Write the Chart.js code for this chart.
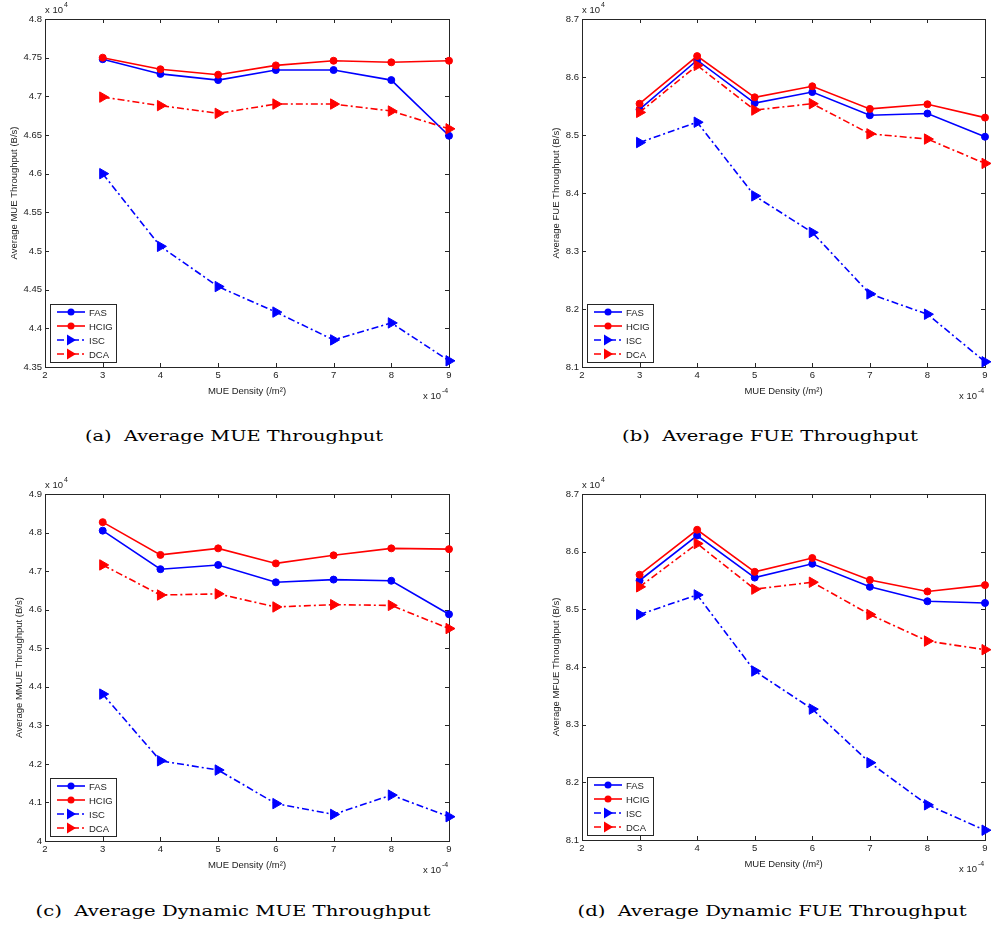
<!DOCTYPE html>
<html>
<head>
<meta charset="utf-8">
<script src="https://cdn.jsdelivr.net/npm/chart.js@4.4.1/dist/chart.umd.min.js"></script>
<style>
body { margin: 0; background: #fff; width: 992px; height: 931px; position: relative; overflow: hidden; }
canvas { position: absolute; }
.cap { position: absolute; font-family: "DejaVu Serif", serif; font-size: 15px; color: #000; white-space: pre; transform: translate(-50%, -50%); }
</style>
</head>
<body>
<canvas id="ca"></canvas>
<canvas id="cb"></canvas>
<canvas id="cc"></canvas>
<canvas id="cd"></canvas>
<div class="cap" data-w="298" style="left:234px;top:436px">(a)  Average MUE Throughput</div>
<div class="cap" data-w="296" style="left:770px;top:436px">(b)  Average FUE Throughput</div>
<div class="cap" data-w="395" style="left:233px;top:911px">(c)  Average Dynamic MUE Throughput</div>
<div class="cap" data-w="389" style="left:772px;top:911px">(d)  Average Dynamic FUE Throughput</div>
<script>
// x values in units of 1e-4 /m^2, y values in units of 1e4 B/s
const density = [3, 4, 5, 6, 7, 8, 9];
const seriesNames = ['FAS', 'HCIG', 'ISC', 'DCA'];

const xTicks = [2, 3, 4, 5, 6, 7, 8, 9];
const yTicksMue = [4.35, 4.4, 4.45, 4.5, 4.55, 4.6, 4.65, 4.7, 4.75, 4.8];
const yTicksFue = [8.1, 8.2, 8.3, 8.4, 8.5, 8.6, 8.7];
const yTicksDynMue = [4, 4.1, 4.2, 4.3, 4.4, 4.5, 4.6, 4.7, 4.8, 4.9];
const yTicksDynFue = [8.1, 8.2, 8.3, 8.4, 8.5, 8.6, 8.7];

// (a) average MUE throughput
const mueFAS  = [4.748, 4.729, 4.721, 4.734, 4.734, 4.721, 4.649];
const mueHCIG = [4.750, 4.735, 4.728, 4.740, 4.746, 4.744, 4.746];
const mueISC  = [4.600, 4.506, 4.454, 4.421, 4.385, 4.407, 4.358];
const mueDCA  = [4.699, 4.688, 4.678, 4.690, 4.690, 4.681, 4.658];

// (b) average FUE throughput
const fueFAS  = [8.544, 8.629, 8.555, 8.574, 8.534, 8.537, 8.497];
const fueHCIG = [8.554, 8.636, 8.565, 8.584, 8.545, 8.553, 8.530];
const fueISC  = [8.487, 8.522, 8.395, 8.332, 8.226, 8.191, 8.109];
const fueDCA  = [8.539, 8.620, 8.543, 8.554, 8.502, 8.493, 8.451];

// (c) average dynamic MUE throughput
const dynMueFAS  = [4.805, 4.705, 4.716, 4.671, 4.678, 4.675, 4.588];
const dynMueHCIG = [4.827, 4.742, 4.759, 4.720, 4.741, 4.759, 4.757];
const dynMueISC  = [4.381, 4.208, 4.184, 4.097, 4.069, 4.119, 4.063];
const dynMueDCA  = [4.716, 4.638, 4.641, 4.607, 4.613, 4.611, 4.551];

// (d) average dynamic FUE throughput
const dynFueFAS  = [8.550, 8.628, 8.555, 8.579, 8.539, 8.514, 8.511];
const dynFueHCIG = [8.560, 8.638, 8.565, 8.589, 8.551, 8.531, 8.542];
const dynFueISC  = [8.491, 8.525, 8.393, 8.327, 8.234, 8.161, 8.117];
const dynFueDCA  = [8.539, 8.614, 8.535, 8.547, 8.491, 8.445, 8.430];

const BLUE = '#0000ff';
const RED = '#ff0000';
const DASHDOT = [7, 3, 2, 3];
const FONT = 'Liberation Sans, Arial, sans-serif';

function styleFor(i) {
    const solid = i < 2;
    const color = (i % 2 === 0) ? BLUE : RED;
    return {
        borderColor: color,
        backgroundColor: color,
        borderWidth: 1.6,
        borderDash: solid ? [] : DASHDOT,
        pointStyle: solid ? 'circle' : 'triangle',
        pointRotation: solid ? 0 : 90,
        pointRadius: solid ? 3.5 : 6,
        pointBorderWidth: 1
    };
}

function makeSets(lists) {
    return lists.map((vals, i) => Object.assign({
        label: seriesNames[i],
        data: density.map((x, j) => ({ x: x, y: vals[j] })),
        clip: false,
        order: 3 - i,
        tension: 0
    }, styleFor(i)));
}

// box, inward ticks, legend and the x10 multipliers (MATLAB look)
const matlabLook = {
    id: 'matlabLook',
    beforeDatasetsDraw(chart) {
        const ctx = chart.ctx;
        const a = chart.chartArea;
        const xs = chart.scales.x, ys = chart.scales.y;
        ctx.save();
        ctx.strokeStyle = '#262626';
        ctx.lineWidth = 1;
        ctx.strokeRect(Math.round(a.left) + 0.5, Math.round(a.top) + 0.5, Math.round(a.right - a.left), Math.round(a.bottom - a.top));
        ctx.beginPath();
        xs.ticks.forEach(t => {
            const px = Math.round(xs.getPixelForValue(t.value)) + 0.5;
            ctx.moveTo(px, a.bottom); ctx.lineTo(px, a.bottom - 4);
            ctx.moveTo(px, a.top); ctx.lineTo(px, a.top + 4);
        });
        ys.ticks.forEach(t => {
            const py = Math.round(ys.getPixelForValue(t.value)) + 0.5;
            ctx.moveTo(a.left, py); ctx.lineTo(a.left + 4, py);
            ctx.moveTo(a.right, py); ctx.lineTo(a.right - 4, py);
        });
        ctx.stroke();
        ctx.restore();
    },
    afterDraw(chart) {
        const ctx = chart.ctx;
        const a = chart.chartArea;
        ctx.save();
        // legend box
        const lx = Math.round(a.left) + 5, lw = 66, lh = 58;
        const ly = Math.round(a.bottom) - 5 - lh;
        ctx.fillStyle = '#fff';
        ctx.fillRect(lx, ly, lw, lh);
        ctx.strokeStyle = '#262626';
        ctx.lineWidth = 1;
        ctx.strokeRect(lx + 0.5, ly + 0.5, lw, lh);
        chart.data.datasets.forEach((ds, i) => {
            const y = ly + 8 + i * 14;
            ctx.strokeStyle = ds.borderColor;
            ctx.lineWidth = ds.borderWidth;
            ctx.setLineDash(ds.borderDash);
            ctx.beginPath();
            ctx.moveTo(lx + 7, y); ctx.lineTo(lx + 35, y);
            ctx.stroke();
            ctx.setLineDash([]);
            ctx.fillStyle = ds.backgroundColor;
            ctx.beginPath();
            if (ds.pointStyle === 'circle') {
                ctx.arc(lx + 21, y, ds.pointRadius, 0, Math.PI * 2);
            } else {
                ctx.moveTo(lx + 26, y); ctx.lineTo(lx + 17, y - 5.5); ctx.lineTo(lx + 17, y + 5.5);
                ctx.closePath();
            }
            ctx.fill();
            ctx.fillStyle = '#222';
            ctx.font = '9.5px ' + FONT;
            ctx.textBaseline = 'middle';
            ctx.textAlign = 'left';
            ctx.fillText(ds.label, lx + 39, y + 1);
        });
        // multipliers
        ctx.fillStyle = '#222';
        ctx.textBaseline = 'alphabetic';
        ctx.font = '9.5px ' + FONT;
        ctx.fillText('x 10', a.left, a.top - 6);
        let w = ctx.measureText('x 10').width;
        ctx.font = '7px ' + FONT;
        ctx.fillText('4', a.left + w + 1, a.top - 12);
        ctx.font = '9.5px ' + FONT;
        w = ctx.measureText('x 10').width;
        ctx.fillText('x 10', a.right - w - 8, a.bottom + 32);
        ctx.font = '7px ' + FONT;
        ctx.fillText('-4', a.right - 7, a.bottom + 26);
        ctx.restore();
    }
};

const PAD_BOTTOM = 6;

function makeChart(id, box, area, yTicks, yTitle, lists) {
    const cv = document.getElementById(id);
    cv.width = box.w; cv.height = box.h + PAD_BOTTOM;
    cv.style.left = box.left + 'px'; cv.style.top = box.top + 'px';
    const yW = area[0] - box.left;
    const xH = box.top + box.h - area[3];
    new Chart(cv, {
        type: 'line',
        data: { datasets: makeSets(lists) },
        options: {
            responsive: false,
            animation: false,
            events: [],
            layout: { padding: { left: 0, top: area[1] - box.top, right: box.left + box.w - area[2], bottom: PAD_BOTTOM } },
            plugins: { legend: { display: false }, tooltip: { enabled: false } },
            scales: {
                x: {
                    type: 'linear',
                    min: xTicks[0], max: xTicks[xTicks.length - 1],
                    grid: { display: false, drawTicks: false },
                    border: { display: false },
                    afterBuildTicks: s => { s.ticks = xTicks.map(v => ({ value: v })); },
                    afterFit: s => { s.height = xH; },
                    ticks: { padding: 3, color: '#222', font: { family: FONT, size: 9.5 }, maxRotation: 0, autoSkip: false, callback: v => String(v) },
                    title: { display: true, text: 'MUE Density (/m²)', color: '#222', font: { family: FONT, size: 9.5 }, padding: { top: 0, bottom: 0.5 } }
                },
                y: {
                    type: 'linear',
                    min: yTicks[0], max: yTicks[yTicks.length - 1],
                    grid: { display: false, drawTicks: false },
                    border: { display: false },
                    afterBuildTicks: s => { s.ticks = yTicks.map(v => ({ value: v })); },
                    afterFit: s => { s.width = yW; },
                    ticks: { padding: 3, color: '#222', font: { family: FONT, size: 9.5 }, autoSkip: false, callback: v => String(Math.round(v * 100) / 100) },
                    title: { display: true, text: yTitle, color: '#222', font: { family: FONT, size: 9.5 }, padding: { top: box.yTitleX - box.left - 5.7, bottom: 0 } }
                }
            }
        },
        plugins: [matlabLook]
    });
}

makeChart('ca', { left: 0, top: 0, w: 470, h: 398, yTitleX: 14 }, [45, 19, 449, 367], yTicksMue,
    'Average MUE Throughput (B/s)', [mueFAS, mueHCIG, mueISC, mueDCA]);
makeChart('cb', { left: 540, top: 0, w: 452, h: 398, yTitleX: 556 }, [582, 19, 986, 367], yTicksFue,
    'Average FUE Throughput (B/s)', [fueFAS, fueHCIG, fueISC, fueDCA]);
makeChart('cc', { left: 0, top: 470, w: 470, h: 402, yTitleX: 19 }, [45, 494, 449, 841], yTicksDynMue,
    'Average MMUE Throughput (B/s)', [dynMueFAS, dynMueHCIG, dynMueISC, dynMueDCA]);
makeChart('cd', { left: 540, top: 470, w: 452, h: 401, yTitleX: 556 }, [582, 494, 986, 840], yTicksDynFue,
    'Average MFUE Throughput (B/s)', [dynFueFAS, dynFueHCIG, dynFueISC, dynFueDCA]);

// stretch the captions to the width they take in the figure
document.querySelectorAll('.cap').forEach(el => {
    const w = el.getBoundingClientRect().width;
    el.style.transform = 'translate(-50%, -50%) scaleX(' + (el.dataset.w / w) + ')';
});
</script>
</body>
</html>
